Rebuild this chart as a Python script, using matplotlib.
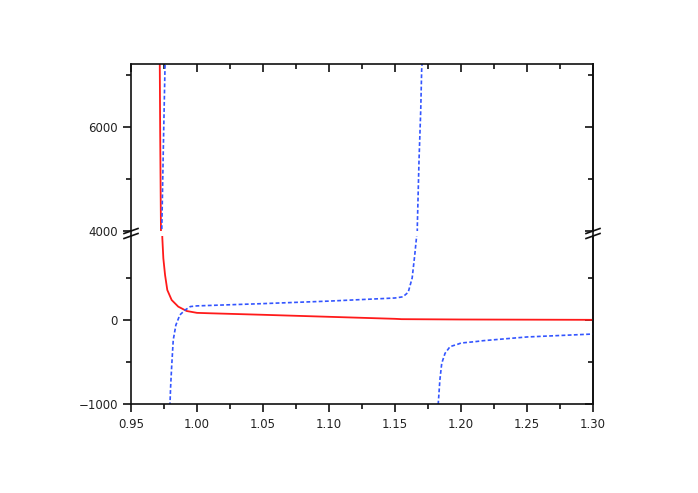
import numpy as np
import matplotlib.pyplot as plt
from matplotlib.lines import Line2D
from matplotlib.ticker import MultipleLocator, FormatStrFormatter

# red solid curve
x_red = [0.9717, 0.9721, 0.9727, 0.9732, 0.9737, 0.9745, 0.9758, 0.9775, 0.9808,
         0.9858, 0.9922, 1.0000, 1.0100, 1.0500, 1.1000, 1.1500, 1.1550, 1.2000,
         1.2500, 1.3000]
y_red = [7600, 5900, 4000, 2200, 985, 734, 536, 357, 238,
         159, 107, 85, 80, 62, 38, 14, 10, 6,
         4, 2]

# blue dashed curve, three branches
x_blue1 = [0.9730, 0.9733, 0.9745, 0.9758, 0.9760]
y_blue1 = [3800, 4000, 5600, 7200, 7400]

x_blue2 = [0.9793, 0.9800, 0.9808, 0.9820, 0.9840, 0.9870, 0.9910, 0.9950, 1.0000,
           1.0500, 1.1000, 1.1500, 1.1560, 1.1600, 1.1630, 1.1650, 1.1664, 1.1669,
           1.1682, 1.1695, 1.1702, 1.1712]
y_blue2 = [-1100, -800, -556, -238, -60, 60, 119, 160, 168,
           195, 225, 262, 276, 330, 500, 780, 1000, 4083,
           5365, 6327, 7096, 7500]

x_blue3 = [1.1824, 1.1840, 1.1854, 1.1879, 1.1917, 1.1980, 1.2000, 1.2106, 1.2169,
           1.2500, 1.3000]
y_blue3 = [-1080, -714, -516, -397, -317, -286, -274, -258, -246,
           -202, -167]

red = "#ff1a1a"
blue = "#3355ff"
ink = "#111111"

fig = plt.figure(figsize=(6.98, 4.93), dpi=100)
W, H = 698, 493
left, right = 131, 593
ax_top = fig.add_axes([left / W, (H - 231) / H, (right - left) / W, 167 / H])
ax_bot = fig.add_axes([left / W, (H - 404) / H, (right - left) / W, 168 / H])

ax_top.set_ylim(4000, 7210)
ax_top.yaxis.set_major_locator(MultipleLocator(2000))
ax_top.yaxis.set_minor_locator(MultipleLocator(1000))
ax_top.yaxis.set_major_formatter(FormatStrFormatter("%d"))
ax_bot.set_ylim(-1000, 1000)
ax_bot.set_yticks([-1000, 0])
ax_bot.set_yticks([-500, 500], minor=True)
ax_bot.set_yticklabels(["\u22121000", "0"])

for ax in (ax_top, ax_bot):
    ax.plot(x_red, y_red, color=red, lw=1.3, solid_joinstyle="round")
    for xs, ys in ((x_blue1, y_blue1), (x_blue2, y_blue2), (x_blue3, y_blue3)):
        ax.plot(xs, ys, color=blue, lw=1.2, dashes=(2.3, 1.4))
    ax.set_xlim(0.95, 1.30)
    for s in ax.spines.values():
        s.set_linewidth(1.2)
        s.set_color(ink)
    ax.xaxis.set_major_locator(MultipleLocator(0.05))
    ax.xaxis.set_minor_locator(MultipleLocator(0.025))
    ax.tick_params(axis="y", which="both", left=True, right=False, direction="out",
                   labelsize=8.5, labelcolor="#222222", color=ink, width=1.2)
    ax.tick_params(axis="y", which="major", length=6)
    ax.tick_params(axis="y", which="minor", length=3.5)
    # right side ticks point inward
    sec = ax.secondary_yaxis("right")
    sec.spines["right"].set_linewidth(1.2)
    sec.yaxis.set_major_locator(ax.yaxis.get_major_locator())
    sec.yaxis.set_minor_locator(ax.yaxis.get_minor_locator())
    sec.tick_params(axis="y", which="both", direction="in", labelright=False,
                    color=ink, width=1.2)
    sec.tick_params(axis="y", which="major", length=6)
    sec.tick_params(axis="y", which="minor", length=3.5)

ax_top.spines["bottom"].set_visible(False)
ax_bot.spines["top"].set_visible(False)
ax_top.tick_params(axis="x", which="both", bottom=False, top=True, direction="in",
                   labelbottom=False, color=ink, width=1.2)
ax_top.tick_params(axis="x", which="major", length=6)
ax_top.tick_params(axis="x", which="minor", length=3.5)
ax_bot.tick_params(axis="x", which="both", bottom=True, top=False, direction="out",
                   labelsize=8.5, labelcolor="#222222", color=ink, width=1.2, pad=4)
ax_bot.tick_params(axis="x", which="major", length=6)
ax_bot.tick_params(axis="x", which="minor", length=3.5)
ax_bot.xaxis.set_major_formatter(FormatStrFormatter("%.2f"))

# break marks and spine through the gap
for xpix in (left, right):
    fig.add_artist(Line2D([xpix / W, xpix / W], [(H - 236) / H, (H - 231) / H],
                          color=ink, lw=1.2))
    for ypix in (231, 236):
        fig.add_artist(Line2D([(xpix - 7) / W, (xpix + 7) / W],
                              [(H - ypix - 2.5) / H, (H - ypix + 2.5) / H],
                              color=ink, lw=1.2))

fig.savefig("out.png", dpi=100)
